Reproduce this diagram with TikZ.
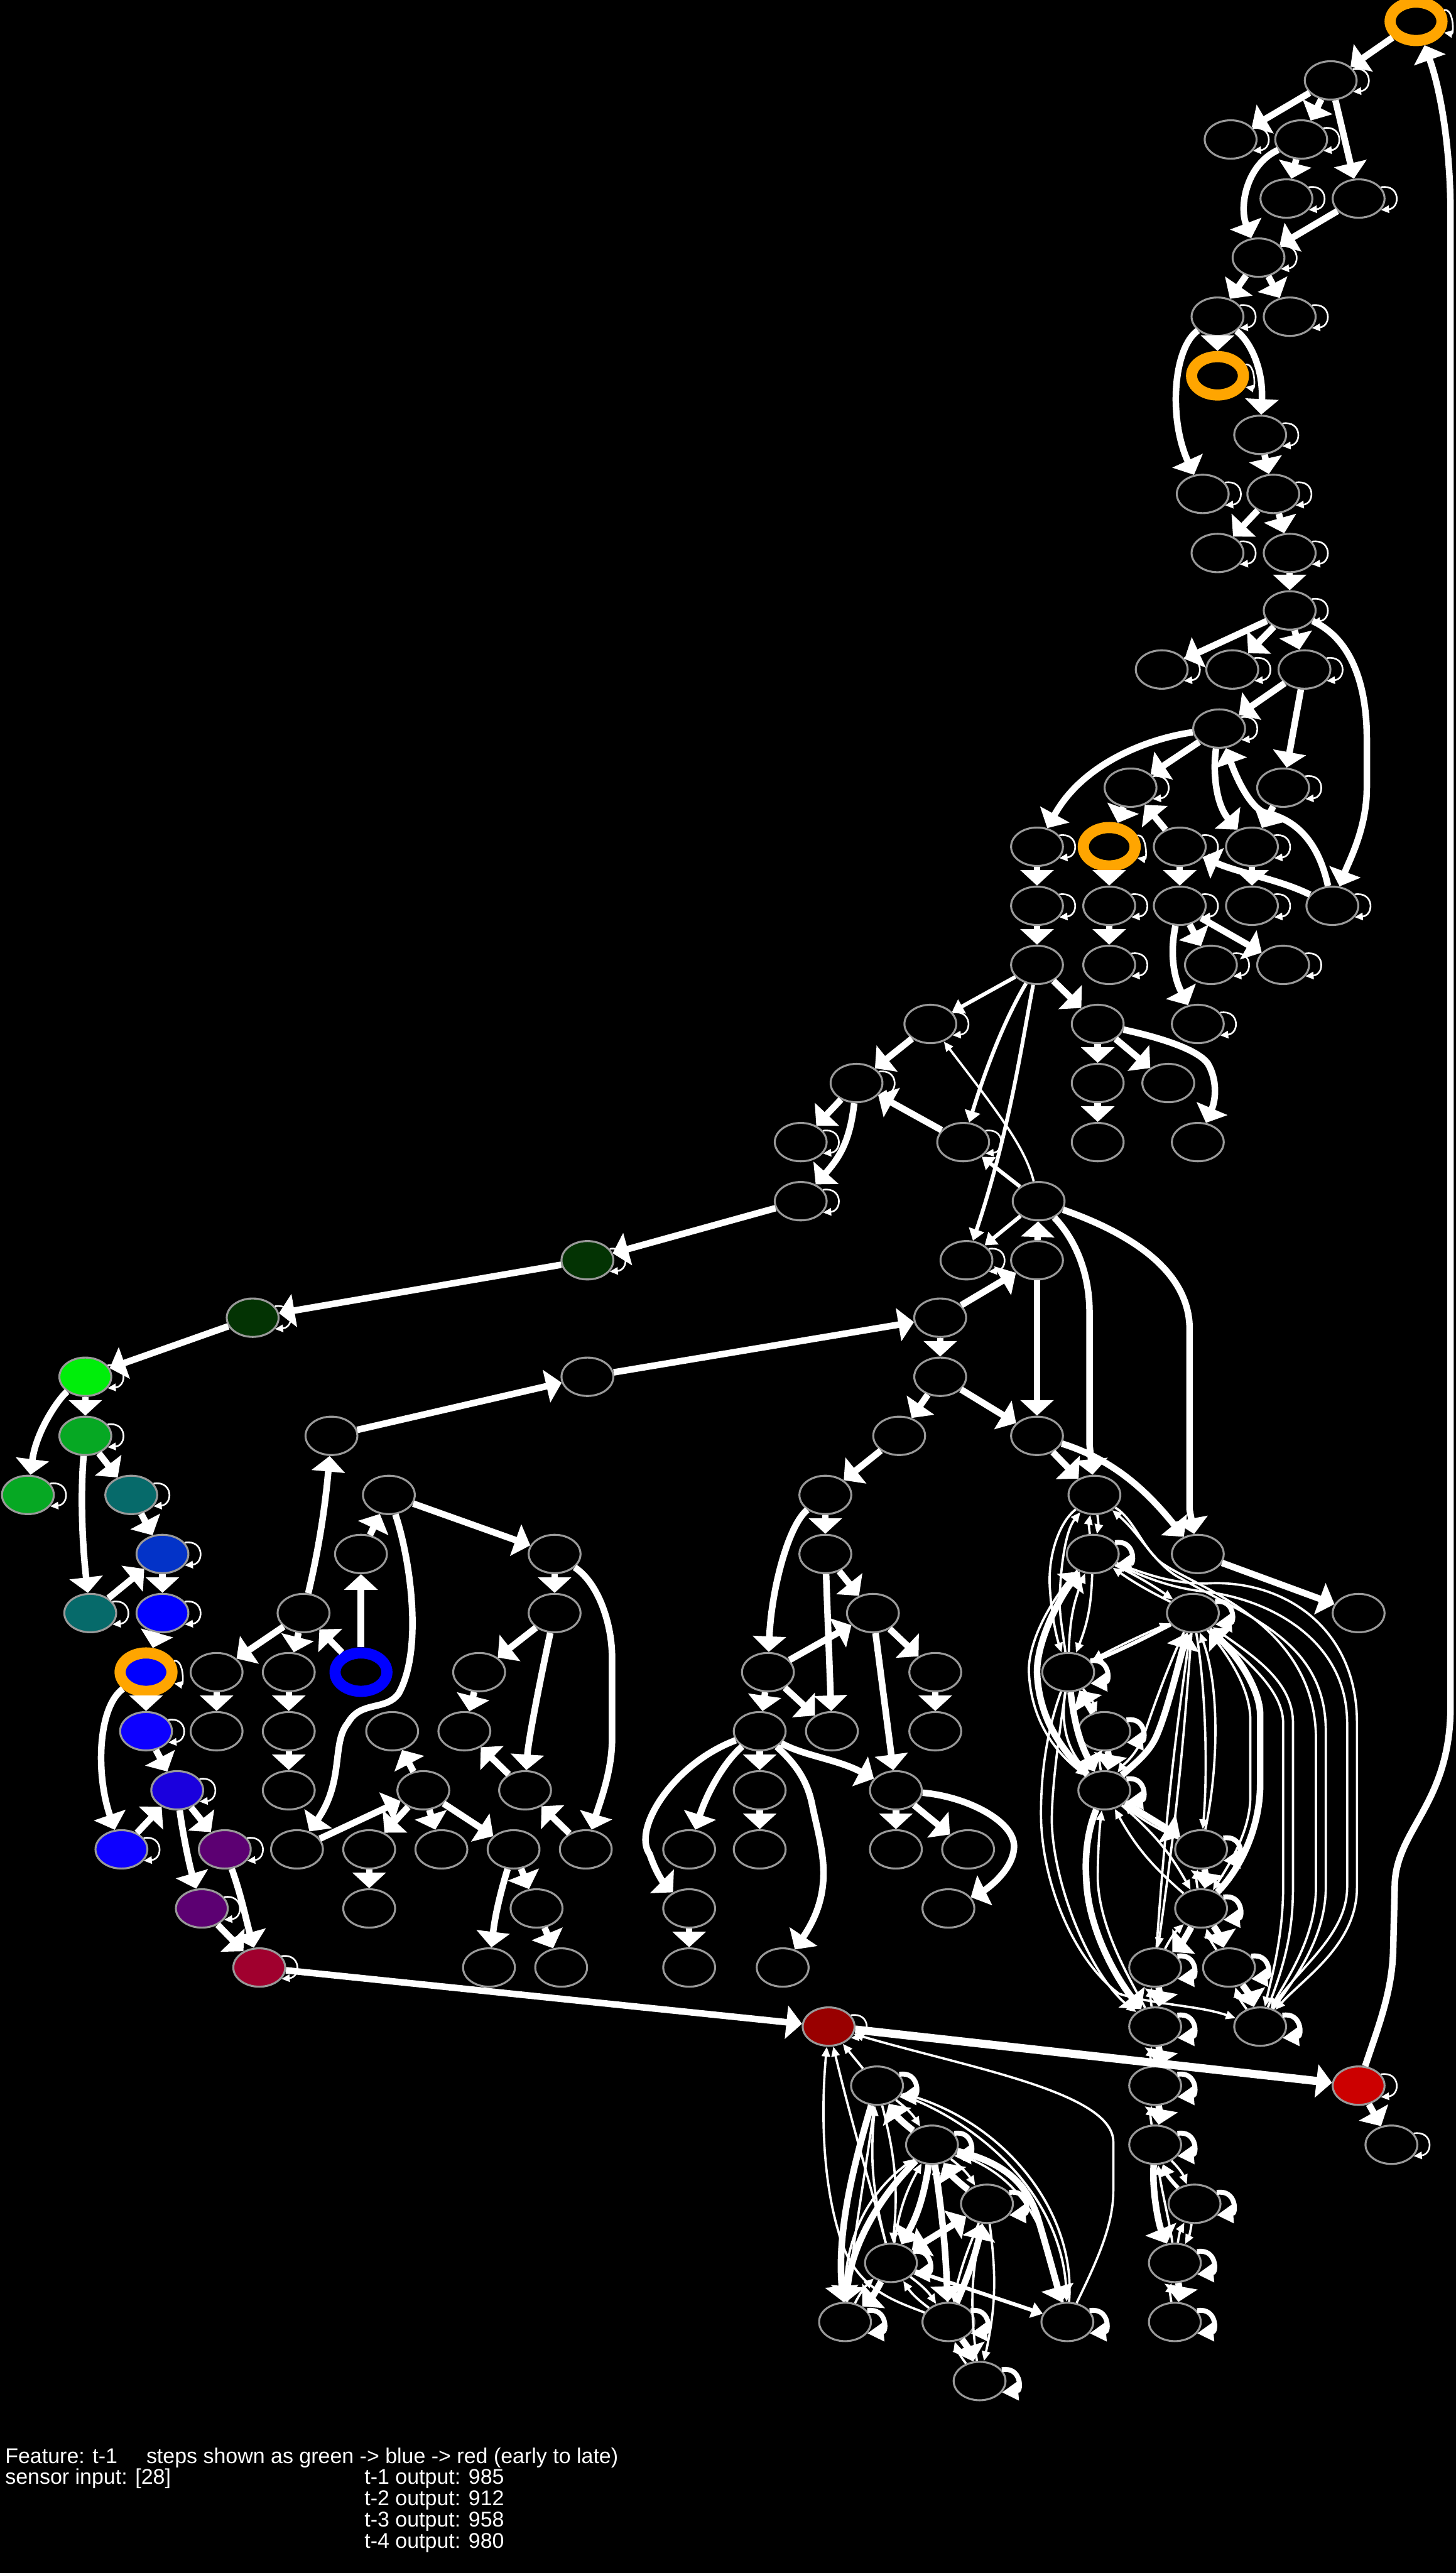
\documentclass[tikz,border=0pt]{standalone}
\usepackage{fontspec}
\setmainfont{Liberation Sans}
\usetikzlibrary{shapes.geometric,arrows.meta}
\definecolor{nodegray}{HTML}{999999}
\definecolor{ringorange}{HTML}{FFA500}
\definecolor{cBright}{HTML}{00EE0A}
\definecolor{cGreen}{HTML}{06A823}
\definecolor{cDark}{HTML}{033303}
\definecolor{cTeal}{HTML}{066A6A}
\definecolor{cRoyal}{HTML}{0333C8}
\definecolor{cBlue}{HTML}{0000FF}
\definecolor{cBlueB}{HTML}{0D00FF}
\definecolor{cIndigo}{HTML}{1A00DD}
\definecolor{cPurple}{HTML}{5C0072}
\definecolor{cCrimson}{HTML}{A0002E}
\definecolor{cMaroon}{HTML}{990000}
\definecolor{cRed}{HTML}{CC0000}
\tikzset{
 nd/.style={ellipse,draw=nodegray,line width=1.2pt,fill=black,minimum width=31.6pt,minimum height=23.4pt,inner sep=0pt},
 ring/.style={nd,draw=ringorange,line width=6.8pt},
 edgeA/.style={draw=white,line width=4pt,-{Triangle[length=9.5pt,width=20pt]}},
 edgeM/.style={draw=white,line width=3.2pt,-{Triangle[length=9pt,width=15pt]}},
 edgeB/.style={draw=white,line width=2.3pt,-{Triangle[length=7pt,width=9.5pt]}},
 edgeC/.style={draw=white,line width=1.4pt,-{Triangle[length=6pt,width=5pt]}},
 lpthin/.style={draw=white,line width=1pt,-{Triangle[length=5pt,width=4.5pt]}},
 lpthick/.style={draw=white,line width=3pt,-{Triangle[length=10pt,width=11pt]}},
 lab/.style={anchor=base west,inner sep=0pt,text=white,font=\fontsize{13}{13}\selectfont},
}
\newcommand\lpA[1]{\draw[lpthin] (#1.27) .. controls +(12,-2) and +(12,-1) .. (#1.-27);}
\newcommand\lpB[1]{\draw[lpthick] (#1.27) .. controls +(12,-2) and +(12,-1) .. (#1.-27);}
\newcommand\lpC[1]{\draw[lpthin] (#1.22) .. controls +(6,-1) and +(6,1) .. (#1.-22);}
\newcommand\two[2]{\draw[edgeA] (#1) to[bend left=10] (#2); \draw[edgeC] (#2) to[bend left=10] (#1);}
\newcommand\twoB[2]{\draw[edgeB] (#1) to[bend left=12] (#2); \draw[edgeC] (#2) to[bend left=12] (#1);}
\newcommand\twoC{\twoCx}
\newcommand\twoCx[2]{\draw[edgeC] (#1) to[bend left=10] (#2); \draw[edgeC] (#2) to[bend left=10] (#1);}
\begin{document}
\begin{tikzpicture}[x=1pt,y=-1pt]
\useasboundingbox (0,0) rectangle (887.25,1568);
\fill[black] (0,0) rectangle (887.25,1568);
% plain nodes
\foreach \nm/\x/\y in {
 tb/811/49, tca/750/85, tcb/793/85, tda/784/121, tdb/828/121, te/767/157, tfa/742/193, tfb/786/193,
 th/768/265, tia/733/301, tib/776/301, tja/742/337, tjb/786/337, tk/786/372, tla/708/408, tlb/751/408, tlc/795/408,
 tm/743/444, tna/689/480, tnb/782/480, toa/632/516, toc/719/516, tod/763/516,
 tpa/632/552, tpb/676/552, tpc/719/552, tpd/763/552, tpe/812/552,
 tqa/632/588, tqb/676/588, tqc/738/588, tqd/782/588,
 ma/567/624, mb/669/624, mc/730/624, mda/522/660, mdb/669/660, mdc/712/660,
 mea/488/696, meb/587/696, mec/669/696, med/730/696, mfa/488/732, mfb/633/732,
 mga/589/768, mgb/632/768, mhb/573/803, mib/358/839, mic/573/839,
 mjb/202/875, mjc/548/875, mjd/632/875,
 kc/237/911, kd/503/911, ke/667/911,
 lb/220/947, lc/338/947, ld/503/947, le/666/947, lf/730/947,
 oc/185/983, od/338/983, oe/532/983, of/727/983, og/828/983,
 pb/132/1019, pc/176/1019, pe/292/1019, pf/468/1019, pg/570/1019, ph/651/1019,
 qb/132/1055, qc/176/1055, qd/239/1055, qe/283/1055, qf/463/1055, qg/507/1055, qh/570/1055, qi/673/1055,
 rb/176/1091, rc/258/1091, rd/320/1091, re/463/1091, rf/546/1091, rg/673/1091,
 sc/181/1127, sd/225/1127, se/269/1127, sf/313/1127, sg/357/1127, si/420/1127, sj/463/1127, sk/546/1127, sl/590/1127, sh/732/1127,
 ub/225/1163, uc/327/1163, ud/420/1163, ue/578/1163, uf/732/1163,
 vb/298/1199, vc/342/1199, vd/420/1199, ve/477/1199, vf/704/1199, vg/749/1199,
 wb/704/1235, wc/768/1235, xb/704/1271, yb/704/1307, yc/848/1307, zb/728/1343, aab/716/1379, abd/716/1415,
 ba/534.5/1271, bb/568/1307, bc/601.5/1343, bd/543/1379, be/515/1415, bf/578/1415, bg/650.5/1415, bh/597/1451}
 {\node[nd] (\nm) at (\x,\y) {};}
% coloured nodes
\node[ring] (ta) at (863,13) {};
\node[ring] (tg) at (742,229) {};
\node[ring] (tob) at (676,516) {};
\node[nd,fill=cDark] (mgc) at (358,768) {};
\node[nd,fill=cDark] (mha) at (154,803) {};
\node[nd,fill=cBright] (mia) at (52,839) {};
\node[nd,fill=cGreen] (mja) at (52,875) {};
\node[nd,fill=cGreen] (ka) at (17,911) {};
\node[nd,fill=cTeal] (kb) at (80,911) {};
\node[nd,fill=cRoyal] (la) at (99,947) {};
\node[nd,fill=cTeal] (oa) at (55,983) {};
\node[nd,fill=cBlue] (ob) at (99,983) {};
\node[ring,fill=cBlue] (pa) at (89,1019) {};
\node[nd,draw=cBlue,line width=6.8pt] (pd) at (220,1019) {};
\node[nd,fill=cBlueB] (qa) at (89,1055) {};
\node[nd,fill=cIndigo] (ra) at (108,1091) {};
\node[nd,fill=cBlueB] (sa) at (74,1127) {};
\node[nd,fill=cPurple] (sb) at (137,1127) {};
\node[nd,fill=cPurple] (ua) at (123,1163) {};
\node[nd,fill=cCrimson] (va) at (158,1199) {};
\node[nd,fill=cMaroon] (wa) at (505,1235) {};
\node[nd,fill=cRed] (xc) at (828,1271) {};
% loops
\foreach \n in {tb,tca,tcb,tda,tdb,te,tfa,tfb,th,tia,tib,tja,tjb,tk,tla,tlb,tlc,tm,tna,tnb,toa,toc,tod,tpa,tpb,tpc,tpd,tpe,tqb,tqc,tqd,ma,mc,mda,mea,meb,mfa,mga,mgc,mha,mia,mja,ka,kb,la,oa,ob,qa,ra,sa,sb,ua,va,wa,xc,yc} {\lpA{\n}}
\foreach \n in {ta,tg,tob,pa} {\lpC{\n}}
\foreach \n in {le,of,ph,qi,rg,sh,uf,vf,vg,wb,wc,xb,yb,zb,aab,abd,ba,bb,bc,bd,be,bf,bg,bh} {\lpB{\n}}
% upper column
\draw[edgeA] (ta) -- (tb);
\draw[edgeA] (tb) -- (tca);
\draw[edgeA] (tb) -- (tcb);
\draw[edgeA] (tb) -- (tdb);
\draw[edgeA] (tcb) -- (tda);
\draw[edgeA] (tcb) .. controls (760,100) and (755,125) .. (te);
\draw[edgeA] (tdb) -- (te);
\draw[edgeA] (te) -- (tfa);
\draw[edgeA] (te) -- (tfb);
\draw[edgeA] (tfa) -- (tg);
\draw[edgeA] (tfa) .. controls (715,212) and (712,255) .. (tia);
\draw[edgeA] (tfa) .. controls (762,208) and (770,225) .. (th);
\draw[edgeA] (th) -- (tib);
\draw[edgeA] (tib) -- (tja);
\draw[edgeA] (tib) -- (tjb);
\draw[edgeA] (tjb) -- (tk);
\draw[edgeA] (tk) -- (tla);
\draw[edgeA] (tk) -- (tlb);
\draw[edgeA] (tk) -- (tlc);
\draw[edgeA] (tk) .. controls (825,390) and (833,420) .. (833,450) -- (833,480) .. controls (833,505) and (822,525) .. (tpe);
\draw[edgeA] (tlc) -- (tm);
\draw[edgeA] (tlc) -- (tnb);
\draw[edgeA] (tm) -- (tna);
\draw[edgeA] (tm) .. controls (700,450) and (660,465) .. (toa);
\draw[edgeA] (tm) .. controls (739,470) and (741,490) .. (tod);
\draw[edgeA] (tpe) .. controls (805,520) and (795,500) .. (770,495) .. controls (760,490) and (752,470) .. (tm);
\draw[edgeA] (tpe) .. controls (780,536) and (755,532) .. (toc);
\draw[edgeA] (tnb) -- (tod);
\draw[edgeA] (toc) -- (tna);
\draw[edgeA] (tna) -- (tob);
\draw[edgeA] (toa) -- (tpa);
\draw[edgeA] (tob) -- (tpb);
\draw[edgeA] (toc) -- (tpc);
\draw[edgeA] (tod) -- (tpd);
\draw[edgeA] (tpa) -- (tqa);
\draw[edgeA] (tpb) -- (tqb);
\draw[edgeA] (tpc) -- (tqc);
\draw[edgeA] (tpc) -- (tqd);
\draw[edgeA] (tpc) .. controls (713,580) and (715,595) .. (mc);
% middle
\draw[edgeB] (tqa) -- (ma);
\draw[edgeA] (tqa) -- (mb);
\draw[edgeB] (tqa) .. controls (610,625) and (598,660) .. (meb);
\draw[edgeB] (tqa) .. controls (622,640) and (615,690) .. (mga);
\draw[edgeA] (ma) -- (mda);
\draw[edgeA] (meb) -- (mda);
\draw[edgeC] (mfb) .. controls (625,700) and (610,680) .. (ma);
\draw[edgeB] (mfb) -- (meb);
\draw[edgeB] (mfb) -- (mga);
\draw[edgeA] (mgb) -- (mfb);
\draw[edgeA] (mda) -- (mea);
\draw[edgeA] (mda) .. controls (518,695) and (512,705) .. (mfa);
\draw[edgeA] (mb) -- (mdb);
\draw[edgeA] (mb) -- (mdc);
\draw[edgeA] (mb) .. controls (710,633) and (730,640) .. (736,648) .. controls (742,658) and (741,670) .. (med);
\draw[edgeA] (mdb) -- (mec);
\draw[edgeA] (mfa) -- (mgc);
\draw[edgeA] (mgc) -- (mha);
\draw[edgeA] (mha) -- (mia);
\draw[edgeA] (mib) -- (mhb);
\draw[edgeA] (mjb) -- (mib);
\draw[edgeA] (mhb) -- (mgb);
\draw[edgeA] (mhb) -- (mic);
\draw[edgeA] (mic) -- (mjc);
\draw[edgeA] (mic) -- (mjd);
\draw[edgeA] (mgb) -- (mjd);
\draw[edgeA] (mfb) .. controls (655,755) and (664,775) .. (664,800) -- (664,880) -- (ke);
\draw[edgeA] (mfb) .. controls (690,752) and (725,775) .. (725,810) -- (725,920) -- (lf);
\draw[edgeA] (mjd) -- (ke);
\draw[edgeA] (mjd) .. controls (680,890) and (700,910) .. (lf);
\draw[edgeA] (lf) -- (og);
% lower middle tree
\draw[edgeA] (mjc) -- (kd);
\draw[edgeA] (kd) -- (ld);
\draw[edgeA] (kd) .. controls (480,930) and (470,970) .. (pf);
\draw[edgeA] (ld) -- (oe);
\draw[edgeA] (ld) -- (qg);
\draw[edgeA] (pf) -- (oe);
\draw[edgeA] (pf) -- (qf);
\draw[edgeA] (pf) -- (qg);
\draw[edgeA] (oe) -- (pg);
\draw[edgeA] (oe) -- (rf);
\draw[edgeA] (pg) -- (qh);
\draw[edgeA] (qf) -- (re);
\draw[edgeA] (qf) .. controls (440,1075) and (430,1095) .. (si);
\draw[edgeA] (qf) .. controls (410,1075) and (385,1115) .. (396,1130) .. controls (400,1142) and (405,1148) .. (ud);
\draw[edgeA] (qf) .. controls (490,1070) and (510,1072) .. (rf);
\draw[edgeA] (qf) .. controls (485,1075) and (492,1085) .. (495,1100) .. controls (500,1125) and (510,1150) .. (ve);
\draw[edgeA] (re) -- (sj);
\draw[edgeA] (ud) -- (vd);
\draw[edgeA] (rf) -- (sk);
\draw[edgeA] (rf) -- (sl);
\draw[edgeA] (rf) .. controls (590,1095) and (618,1110) .. (618,1125) .. controls (618,1140) and (600,1152) .. (ue);
% left
\draw[edgeA] (mia) -- (mja);
\draw[edgeA] (mia) .. controls (36,852) and (22,872) .. (ka);
\draw[edgeA] (mja) -- (kb);
\draw[edgeA] (mja) .. controls (49,910) and (50,940) .. (oa);
\draw[edgeA] (kb) -- (la);
\draw[edgeA] (la) -- (ob);
\draw[edgeA] (oa) -- (la);
\draw[edgeA] (ob) -- (pa);
\draw[edgeA] (pa) -- (qa);
\draw[edgeA] (pa) .. controls (60,1040) and (58,1080) .. (sa);
\draw[edgeA] (qa) -- (ra);
\draw[edgeA] (sa) -- (ra);
\draw[edgeA] (ra) -- (sb);
\draw[edgeA] (ra) .. controls (111,1115) and (115,1135) .. (ua);
\draw[edgeA] (sb) .. controls (147,1155) and (150,1170) .. (va);
\draw[edgeA] (ua) -- (va);
\draw[edgeA] (va) -- (wa);
\draw[edgeA,line width=5pt] (wa) -- (xc);
% centre-left
\draw[edgeA] (oc) .. controls (194,945) and (198,920) .. (mjb);
\draw[edgeA] (oc) -- (pb);
\draw[edgeA] (oc) -- (pc);
\draw[edgeA] (pb) -- (qb);
\draw[edgeA] (pc) -- (qc);
\draw[edgeA] (qc) -- (rb);
\draw[edgeA] (pd) -- (oc);
\draw[edgeA] (pd) -- (lb);
\draw[edgeA] (lb) -- (kc);
\draw[edgeA] (kc) -- (lc);
\draw[edgeA] (kc) .. controls (250,950) and (258,1005) .. (243,1032) .. controls (235,1043) and (220,1036) .. (212,1050) .. controls (202,1062) and (210,1085) .. (sc);
\draw[edgeA] (lc) -- (od);
\draw[edgeA] (lc) .. controls (365,965) and (373,990) .. (373,1010) -- (373,1060) .. controls (373,1080) and (365,1100) .. (sg);
\draw[edgeA] (od) -- (pe);
\draw[edgeA] (od) .. controls (330,1020) and (322,1060) .. (rd);
\draw[edgeA] (pe) -- (qe);
\draw[edgeA] (rd) -- (qe);
\draw[edgeA] (sg) -- (rd);
\draw[edgeA] (sc) -- (rc);
\draw[edgeA] (rc) -- (qd);
\draw[edgeA] (rc) -- (sd);
\draw[edgeA] (rc) -- (se);
\draw[edgeA] (rc) -- (sf);
\draw[edgeA] (sd) -- (ub);
\draw[edgeA] (sf) -- (uc);
\draw[edgeA] (sf) .. controls (306,1150) and (302,1165) .. (vb);
\draw[edgeA] (uc) -- (vc);
% long return edge
\draw[edgeA] (xc) .. controls (840,1235) and (848,1215) .. (849,1190) -- (850,1150) .. controls (850,1115) and (884,1100) .. (884,1040) -- (884,130) .. controls (884,90) and (878,55) .. (ta);
\draw[edgeA] (xc) -- (yc);
% right cluster
\twoC{ke}{le}
\draw[edgeC] (ke) .. controls (645,928) and (638,950) .. (640,970) .. controls (641,985) and (644,998) .. (ph);
\draw[edgeC] (ph) .. controls (647,990) and (645,980) .. (646,969) .. controls (647,950) and (650,932) .. (ke);
\draw[edgeC] (le) .. controls (640,975) and (627,1000) .. (627,1018) .. controls (628,1045) and (640,1065) .. (rg);
\draw[edgeA] (rg) .. controls (645,1065) and (633,1045) .. (632,1019) .. controls (632,1000) and (645,975) .. (le);
\twoC{ph}{le}
\draw[edgeA] (ph) to[bend right=10] (rg);
\draw[edgeC] (ph) to[bend right=25] (rg);
\draw[edgeA] (qi) -- (ph);
\draw[edgeC] (ph) to[bend left=10] (qi);
\two{qi}{rg}
\draw[edgeC] (ph) .. controls (636,1060) and (634,1090) .. (634.5,1110) .. controls (636,1150) and (655,1195) .. (682,1215) .. controls (705,1222) and (730,1222) .. (wc);
\draw[edgeC] (ph) .. controls (645,1060) and (641,1090) .. (641,1110) .. controls (642,1150) and (665,1205) .. (wb);
\draw[edgeA] (rg) .. controls (663,1115) and (661,1130) .. (662,1145) .. controls (663,1175) and (680,1205) .. (wb);
\draw[edgeC] (wb) .. controls (688,1205) and (670,1175) .. (669,1145) .. controls (669,1130) and (670,1115) .. (rg);
\draw[edgeA] (rg) .. controls (695,1072) and (702,1066) .. (706,1055) .. controls (712,1040) and (718,1015) .. (of);
\draw[edgeC] (of) .. controls (712,1015) and (703,1040) .. (697,1058) .. controls (692,1070) and (685,1075) .. (rg);
\draw[edgeB] (of) to[bend left=2] (ph);
\draw[edgeC] (ph) to[bend left=2] (of);
\draw[edgeC] (le) to[bend left=4] (of);
\draw[edgeC] (of) to[bend left=4] (le);
\draw[edgeC] (of) .. controls (735,1030) and (736,1080) .. (sh);
\draw[edgeC] (sh) .. controls (742,1080) and (744,1030) .. (of);
\draw[edgeA] (uf) .. controls (755,1140) and (768,1115) .. (768,1087) -- (768,1045) .. controls (768,1030) and (755,1010) .. (of);
\draw[edgeC] (of) .. controls (750,1010) and (762,1030) .. (762,1048) -- (762,1095) .. controls (762,1115) and (750,1135) .. (uf);
\draw[edgeC] (wc) .. controls (784,1195) and (788,1175) .. (788,1150) -- (788,1050) .. controls (788,1025) and (765,1010) .. (of);
\draw[edgeC] (of) .. controls (760,1012) and (782,1030) .. (782,1050) -- (782,1150) .. controls (782,1180) and (775,1205) .. (wc);
\draw[edgeC] (ke) .. controls (690,925) and (695,940) .. (705,950) .. controls (720,965) and (802,985) .. (802,1060) -- (802,1150) .. controls (802,1180) and (785,1205) .. (wc);
\draw[edgeC] (wc) .. controls (790,1205) and (808,1180) .. (808,1150) -- (808,1055) .. controls (808,1000) and (760,985) .. (720,962) .. controls (705,955) and (695,935) .. (ke);
\draw[edgeC] (le) .. controls (700,960) and (715,965) .. (735,965) .. controls (780,962) and (827,990) .. (827,1050) -- (827,1150) .. controls (827,1185) and (795,1205) .. (wc);
\draw[edgeC] (wc) .. controls (790,1200) and (821,1180) .. (821,1150) -- (821,1050) .. controls (821,1000) and (775,975) .. (735,970) .. controls (715,968) and (700,962) .. (le);
\draw[edgeC] (of) to[bend left=2] (vf);
\draw[edgeC] (vf) to[bend left=2] (of);
\draw[edgeA] (rg) -- (sh);
\draw[edgeC] (sh) to[bend left=6] (rg);
\twoC{rg}{uf}
\two{sh}{uf}
\two{uf}{vf}
\two{uf}{vg}
\two{vg}{wc}
\two{vf}{wb}
\two{wb}{xb}
\two{xb}{yb}
\draw[edgeA] (yb) .. controls (702,1335) and (706,1355) .. (aab);
\draw[edgeC] (aab) .. controls (713,1355) and (708,1335) .. (yb);
\twoB{zb}{yb}
\twoC{zb}{aab}
\two{aab}{abd}
% bottom cluster
\draw[edgeC] (bg) .. controls (670,1375) and (678.5,1355) .. (678.5,1335) -- (678.5,1305) .. controls (678,1275) and (590,1260) .. (wa);
\draw[edgeC] (bf) .. controls (545,1402) and (520,1395) .. (511,1360) .. controls (502,1330) and (500,1290) .. (wa);
\draw[edgeC] (bd) .. controls (530,1330) and (518,1290) .. (wa);
\draw[edgeC] (ba) -- (wa);
\draw[edgeA] (ba) .. controls (520,1320) and (510,1360) .. (be);
\draw[edgeC] (be) .. controls (520,1365) and (528,1320) .. (ba);
\twoC{ba}{bd}
\two{bb}{ba}
\draw[edgeC] (ba) .. controls (600,1295) and (648,1340) .. (bg);
\draw[edgeC] (bg) .. controls (656,1350) and (615,1295) .. (ba);
\draw[edgeA] (bb) .. controls (530,1345) and (518,1375) .. (be);
\draw[edgeC] (be) .. controls (514,1370) and (525,1340) .. (bb);
\two{bb}{bd}
\draw[edgeA] (bb) to[bend left=3] (bf);
\draw[edgeC] (bf) to[bend right=3] (bb);
\two{bc}{bb}
\draw[edgeA] (bb) .. controls (612,1318) and (625,1330) .. (632,1350) .. controls (638,1370) and (642,1385) .. (bg);
\draw[edgeC] (bg) .. controls (640,1370) and (630,1330) .. (bb);
\draw[edgeA,{Triangle[length=9.5pt,width=20pt]}-{Triangle[length=9.5pt,width=20pt]}] (bc) -- (bd);
\draw[edgeA] (bf) to[bend right=5] (bc);
\draw[edgeC] (bc) to[bend right=5] (bf);
\twoC{bc}{bh}
\draw[edgeB] (bd) -- (bg);
\two{bd}{be}
\twoC{bd}{bf}
\two{bf}{bh}
% text
\node[lab] (t1) at (3,1501) {Feature: t-1};
\node[lab] (t2) at (89,1501) {steps shown as green -> blue -> red (early to late)};
\node[lab] (t3) at (3,1514) {sensor input: [28]};
\node[lab] (t4) at (222,1514) {t-1 output: 985};
\node[lab] (t5) at (222,1527) {t-2 output: 912};
\node[lab] (t6) at (222,1540) {t-3 output: 958};
\node[lab] (t7) at (222,1553) {t-4 output: 980};
\end{tikzpicture}
\end{document}
